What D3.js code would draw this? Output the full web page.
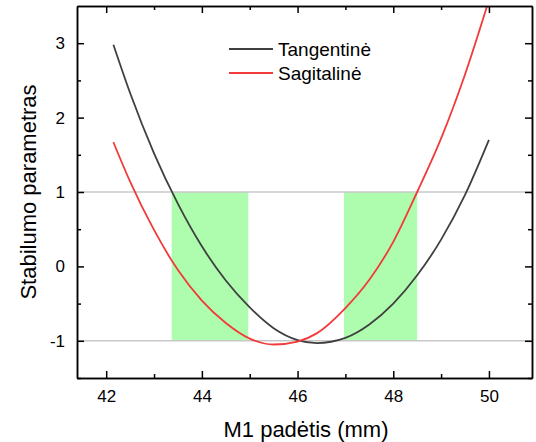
<!DOCTYPE html>
<meta charset="utf-8">
<style>
  body { margin: 0; background: #fff; }
  svg { font-family: Arial, "Liberation Sans", sans-serif; }
  .axis path, .axis line { stroke: #000; stroke-width: 1.5; }
  .axis text { font-size: 17px; fill: #000; }
</style>
<body>
<div id="chart"></div>
<script src="https://d3js.org/d3.v7.min.js"></script>
<script>
  // values
  const xs = [42.15, 42.5, 43, 43.5, 44, 44.5, 45, 45.5, 46, 46.4, 47, 47.5, 48, 48.5, 49, 49.5, 50];
  const tangentine = [2.98, 2.33, 1.52, 0.84, 0.27, -0.19, -0.55, -0.83, -0.99, -1.03, -0.96, -0.78, -0.50, -0.12, 0.36, 0.96, 1.70];
  const sagitaline = [1.67, 1.14, 0.49, -0.05, -0.46, -0.76, -0.97, -1.05, -1.01, -0.90, -0.56, -0.18, 0.33, 1.0, 1.72, 2.58, 3.58];
  const bands = [[43.37, 44.97], [46.97, 48.5]];
  const limits = [-1, 1];
  const xMajor = [42, 44, 46, 48, 50];
  const xMinor = [43, 45, 47, 49];
  const yMajor = [-1, 0, 1, 2, 3];
  const yMinor = [-1.5, -0.5, 0.5, 1.5, 2.5];
  const seriesNames = ["Tangentinė", "Sagitalinė"];
  const seriesColors = ["#404040", "#f23a3a"];

  const width = 536, height = 442;
  const margin = {top: 6, right: 4, bottom: 64, left: 77};

  const svg = d3.select("#chart").append("svg")
    .attr("width", width)
    .attr("height", height);

  const x = d3.scaleLinear().domain([41.39, 50.9]).range([margin.left, width - margin.right]);
  const y = d3.scaleLinear().domain([-1.5, 3.5]).range([height - margin.bottom, margin.top]);

  svg.append("defs").append("clipPath").attr("id", "clip")
    .append("rect")
      .attr("x", margin.left).attr("y", margin.top)
      .attr("width", width - margin.left - margin.right)
      .attr("height", height - margin.top - margin.bottom);

  // green stability bands
  svg.append("g").selectAll("rect")
    .data(bands)
    .join("rect")
      .attr("x", d => x(d[0]))
      .attr("width", d => x(d[1]) - x(d[0]))
      .attr("y", y(limits[1]))
      .attr("height", y(limits[0]) - y(limits[1]))
      .attr("fill", "#aefcae");

  // limit lines at +1 / -1
  svg.append("g").selectAll("line")
    .data(limits)
    .join("line")
      .attr("x1", margin.left).attr("x2", width - margin.right)
      .attr("y1", d => y(d)).attr("y2", d => y(d))
      .attr("stroke", "#c8c8c8")
      .attr("stroke-width", 1.5);

  // curves
  const line = d3.line()
    .x(d => x(d[0]))
    .y(d => y(d[1]))
    .curve(d3.curveMonotoneX);

  [tangentine, sagitaline].forEach((s, i) => {
    svg.append("path")
      .datum(xs.map((v, j) => [v, s[j]]))
      .attr("clip-path", "url(#clip)")
      .attr("d", line)
      .attr("fill", "none")
      .attr("stroke", seriesColors[i])
      .attr("stroke-width", 1.8);
  });

  // axes, ticks pointing inward
  const yBottom = height - margin.bottom, yTop = margin.top;
  const xLeft = margin.left, xRight = width - margin.right;
  const plain = d => String(d);

  svg.append("g").attr("class", "axis").attr("transform", `translate(0,${yBottom})`)
    .call(d3.axisBottom(x).tickValues(xMajor).tickSize(-7).tickSizeOuter(0).tickPadding(12).tickFormat(plain));
  svg.append("g").attr("class", "axis").attr("transform", `translate(0,${yBottom})`)
    .call(d3.axisBottom(x).tickValues(xMinor).tickSize(-4).tickSizeOuter(0).tickFormat(""));
  svg.append("g").attr("class", "axis").attr("transform", `translate(0,${yTop})`)
    .call(d3.axisTop(x).tickValues(xMajor).tickSize(-7).tickSizeOuter(0).tickFormat(""));
  svg.append("g").attr("class", "axis").attr("transform", `translate(0,${yTop})`)
    .call(d3.axisTop(x).tickValues(xMinor).tickSize(-4).tickSizeOuter(0).tickFormat(""));

  svg.append("g").attr("class", "axis").attr("transform", `translate(${xLeft},0)`)
    .call(d3.axisLeft(y).tickValues(yMajor).tickSize(-7).tickSizeOuter(0).tickPadding(12).tickFormat(plain));
  svg.append("g").attr("class", "axis").attr("transform", `translate(${xLeft},0)`)
    .call(d3.axisLeft(y).tickValues(yMinor).tickSize(-4).tickSizeOuter(0).tickFormat(""));
  svg.append("g").attr("class", "axis").attr("transform", `translate(${xRight},0)`)
    .call(d3.axisRight(y).tickValues(yMajor).tickSize(-7).tickSizeOuter(0).tickFormat(""));
  svg.append("g").attr("class", "axis").attr("transform", `translate(${xRight},0)`)
    .call(d3.axisRight(y).tickValues(yMinor).tickSize(-4).tickSizeOuter(0).tickFormat(""));

  // axis titles
  svg.append("text")
    .attr("x", 306).attr("y", 437)
    .attr("text-anchor", "middle")
    .style("font-size", "22px")
    .text("M1 padėtis (mm)");
  svg.append("text")
    .attr("transform", `translate(36,${(yTop + yBottom) / 2}) rotate(-90)`)
    .attr("text-anchor", "middle")
    .style("font-size", "22px")
    .text("Stabilumo parametras");

  // legend
  const legend = svg.append("g").attr("transform", "translate(229,49)");
  seriesNames.forEach((name, i) => {
    const g = legend.append("g").attr("transform", `translate(0,${i * 24})`);
    g.append("line").attr("x1", 0).attr("x2", 44)
      .attr("stroke", seriesColors[i]).attr("stroke-width", 1.8);
    g.append("text").attr("x", 49).attr("dy", "0.35em")
      .style("font-size", "19px")
      .text(name);
  });
</script>
</body>
